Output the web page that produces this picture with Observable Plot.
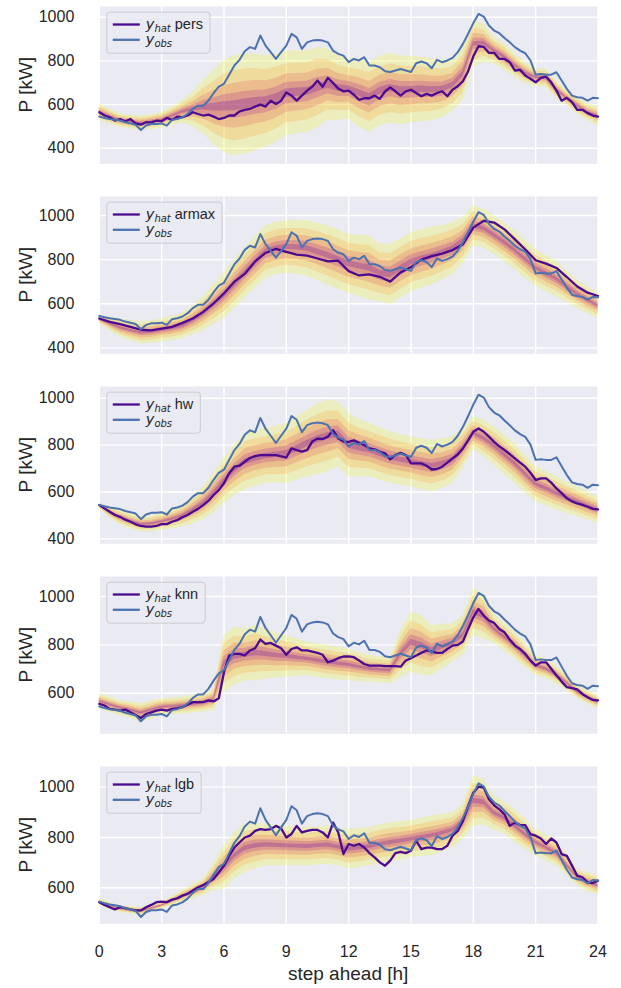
<!DOCTYPE html>
<html>
<head>
<meta charset="utf-8">
<script src="https://cdn.jsdelivr.net/npm/d3@7"></script>
<script src="https://cdn.jsdelivr.net/npm/@observablehq/plot@0.6"></script>
<style>
  body { margin: 0; background: #ffffff; }
  #chart { position: relative; width: 621px; height: 988px; overflow: hidden; }
  #chart svg { display: block; }
</style>
</head>
<body>
<div id="chart"></div>
<script>
// ---------------- data ----------------
const xTicks = [0, 3, 6, 9, 12, 15, 18, 21, 24];
const yTicks = [400, 600, 800, 1000];
const quarterSteps = d3.range(0, 24.001, 0.25); // 97 steps, 15 min
const halfSteps = d3.range(0, 24.001, 0.5);     // 49 steps, 30 min

// observed load (same in every panel), 15-min steps
const yObs = [
  545,539,534,531, 527,519,514,508, 484,504,511,511, 514,504,530,534,
  542,557,580,595, 595,618,652,682, 695,737,779,805, 844,863,855,916,
  870,840,809,840, 870,924,908,855, 885,893,896,893, 885,847,832,824,
  794,809,802,817, 779,779,771,753, 749,756,763,756, 749,789,797,789,
  766,805,794,802, 814,840,878,924, 973,1015,1003,962, 939,927,905,885,
  863,847,835,802, 737,740,737,737, 748,710,672,641, 634,631,618,631, 629
];

// forecasts
const yhatPers = [
  565,550,542,527, 534,524,534,514, 508,519,519,527, 524,539,530,545,
  542,550,565,557, 550,554,545,534, 539,550,550,569, 576,580,591,600,
  591,618,603,618, 656,641,618,641, 664,682,710,682, 722,699,673,661,
  664,645,622,629, 629,641,626,660, 679,661,641,661, 668,653,638,649,
  641,653,661,638, 668,684,707,753, 821,867,864,837, 837,809,809,794,
  756,759,733,718, 702,722,728,702, 664,618,631,611, 576,576,561,550, 545
];
const yhatArmax = [ // 30-min steps
  533,518, 507,495, 482,479, 487,495, 513,533, 563,602, 647,700, 735,792,
  830,849, 835,823, 818,805, 792,795, 748,728, 733,722, 700,742, 766,800,
  816,827, 843,869, 945,976, 968,937, 892,846, 797,782, 762,721, 678,650, 635
];
const yhatHw = [
  544,530,516,502, 494,482,473,462, 455,452,452,455, 463,463,473,480,
  492,502,516,528, 544,562,587,608, 637,680,708,712, 729,745,753,757,
  757,757,757,752, 747,786,779,772, 779,815,828,826, 836,864,828,815,
  814,820,810,800, 786,782,772,765, 739,758,767,758, 722,722,722,712,
  696,698,708,725, 743,760,786,820, 857,871,857,836, 814,795,779,762,
  743,725,708,682, 651,658,658,640, 615,595,573,560, 551,545,537,528, 526
];
const yhatKnn = [
  556,549,535,532, 528,532,521,510, 497,514,521,528, 532,528,535,538,
  542,552,563,563, 563,570,566,579, 687,756,763,763, 756,777,786,822,
  804,808,797,786, 759,783,790,777, 777,772,767,759, 728,735,745,752,
  752,749,735,721, 714,714,714,712, 712,712,710,735, 745,756,767,777,
  772,767,767,783, 797,800,814,866, 914,949,921,901, 891,866,852,822,
  797,783,763,735, 714,728,728,701, 673,648,625,621, 616,597,583,572, 570
];
const yhatLgb = [
  543,532,523,514, 523,519,514,510, 510,523,532,543, 545,543,553,558,
  569,576,589,602, 611,622,635,661, 688,727,760,780, 800,807,826,833,
  830,833,846,836, 800,814,846,820, 826,830,830,820, 800,859,820,734,
  774,767,774,760, 738,721,701,688, 708,738,743,738, 747,787,754,760,
  760,754,754,767, 807,826,866,925, 978,1002,998,952, 928,912,892,846,
  859,849,849,813, 807,796,774,796, 780,734,727,688, 648,642,622,619, 628
];

// outer prediction interval (lower / upper), 30-min steps
const persLo = [527,510,496,488,481,486,493,505,516,501,466,420,382,366,374,389,405,427,458,466,473,493,527,527,534,496,473,504,516,508,516,523,527,539,569,618,771,794,786,756,725,695,683,680,626,595,557,527,501];
const persHi = [603,580,557,552,547,555,565,590,618,656,710,756,802,824,832,832,824,832,847,847,847,863,855,824,809,809,794,820,835,824,820,817,809,802,809,863,985,969,908,878,832,794,764,764,710,664,634,603,591];
const armaxLo = [510,478,449,432,418,420,426,432,441,458,479,505,533,577,624,670,716,730,739,733,724,705,685,665,647,632,617,609,594,625,655,670,685,708,731,780,861,853,823,790,754,715,678,655,632,605,579,555,533];
const armaxHi = [548,540,533,525,518,523,533,543,556,590,632,685,739,797,853,905,953,970,976,978,976,965,953,935,914,910,907,869,869,895,922,935,945,955,968,990,1044,1029,998,965,930,888,846,818,792,750,708,678,647];
const hwLo = [530,490,459,442,430,430,437,443,452,465,480,510,551,585,608,625,637,638,637,650,665,675,686,708,665,665,665,650,637,630,622,610,601,615,637,700,779,750,715,675,637,595,558,540,523,508,494,480,466];
const hwHi = [551,537,523,508,494,498,509,525,544,580,622,680,743,800,850,862,871,880,892,920,949,975,992,985,935,910,892,875,857,845,836,828,821,826,836,870,921,907,878,843,807,757,708,690,665,643,622,600,580];
const knnLo = [535,520,508,495,480,492,508,510,514,518,521,528,604,632,652,652,659,662,666,670,673,666,659,655,652,648,646,642,639,665,687,673,673,700,728,756,839,825,804,775,742,706,673,660,639,610,577,555,535];
const knnHi = [597,585,570,565,556,568,577,580,583,590,597,618,839,873,866,880,866,850,839,825,811,805,797,790,783,770,756,752,749,860,935,921,880,885,887,921,1032,1011,928,890,852,805,756,740,714,675,632,610,590];
const lgbLo = [529,515,503,496,490,503,516,530,543,556,569,589,596,635,661,675,688,688,688,688,688,692,694,688,675,680,688,695,701,710,721,725,727,742,760,793,845,850,830,815,780,752,727,708,688,650,609,585,569];
const lgbHi = [556,542,529,526,523,532,543,565,589,612,635,694,767,820,853,859,853,850,846,843,840,843,846,835,833,836,840,850,859,862,866,876,886,892,899,930,1044,1031,965,939,912,872,833,810,787,730,675,660,648];

// nested quantile bands as share of the outer interval half-width
const quantileWidthRatios = [1, 0.7, 0.45, 0.25, 0.1];
const bandColors = ["#f0f921", "#fca636", "#e16462", "#b12a90", "#6a00a8"];

const modelNames = ["pers", "armax", "hw", "knn", "lgb"];
const yDomains = [[329, 1049], [373, 1086], [379, 1050], [432, 1083], [457, 1082]];

const panels = [
  {model: modelNames[0], yhat: yhatPers,  steps: quarterSteps, lo: persLo,  hi: persHi,  domain: yDomains[0]},
  {model: modelNames[1], yhat: yhatArmax, steps: halfSteps,    lo: armaxLo, hi: armaxHi, domain: yDomains[1]},
  {model: modelNames[2], yhat: yhatHw,    steps: quarterSteps, lo: hwLo,    hi: hwHi,    domain: yDomains[2]},
  {model: modelNames[3], yhat: yhatKnn,   steps: quarterSteps, lo: knnLo,   hi: knnHi,   domain: yDomains[3]},
  {model: modelNames[4], yhat: yhatLgb,   steps: quarterSteps, lo: lgbLo,   hi: lgbHi,   domain: yDomains[4]}
];

// ---------------- layout ----------------
const W = 621, LEFT = 98.8, RIGHT = 23.5, TOP = 6, INNER = 157.3, PITCH = 190, TOTAL = 988;
const yhatColor = "#4b0a8f", obsColor = "#4c72b0";
const FONT = "'Liberation Sans', Arial, Helvetica, sans-serif";
const container = document.getElementById("chart");

panels.forEach((p, idx) => {
  const last = idx === panels.length - 1;
  const height = last ? TOTAL - PITCH * idx : PITCH;
  const bottom = height - TOP - INNER;
  const ticks = yTicks.filter(t => t >= p.domain[0] && t <= p.domain[1]);
  const bands = quantileWidthRatios.map(r => halfSteps.map((s, k) => {
    const mid = (p.lo[k] + p.hi[k]) / 2, half = (p.hi[k] - p.lo[k]) / 2;
    return {s, y1: mid - r * half, y2: mid + r * half};
  }));
  const marks = [
    Plot.frame({fill: "#eaeaf2", stroke: "none"}),
    Plot.gridX(xTicks, {stroke: "#ffffff", strokeOpacity: 1, strokeWidth: 1.4}),
    Plot.gridY(ticks, {stroke: "#ffffff", strokeOpacity: 1, strokeWidth: 1.4}),
    ...bands.map((b, j) => Plot.areaY(b, {x: "s", y1: "y1", y2: "y2", fill: bandColors[j], fillOpacity: 0.25})),
    Plot.lineY(p.yhat, {x: (d, i) => p.steps[i], y: d => d, stroke: yhatColor, strokeWidth: 2.3}),
    Plot.lineY(yObs, {x: (d, i) => quarterSteps[i], y: d => d, stroke: obsColor, strokeWidth: 2}),
    Plot.axisY(ticks, {tickSize: 0, tickPadding: 25, label: null, fontSize: 16, tickFormat: d => String(d)})
  ];
  if (last) marks.push(Plot.axisX(xTicks, {tickSize: 0, tickPadding: 22, label: null, fontSize: 16, tickFormat: d => String(d)}));
  const svg = Plot.plot({
    width: W, height,
    marginLeft: LEFT, marginRight: RIGHT, marginTop: TOP, marginBottom: bottom,
    x: {domain: [0, 24], axis: last ? undefined : null},
    y: {domain: p.domain},
    style: {fontFamily: FONT, fontSize: "16px", color: "#262626", background: "transparent", overflow: "visible"},
    marks
  });
  container.appendChild(svg);

  const s = d3.select(svg);
  // y label
  s.append("text")
    .attr("transform", `translate(25, ${TOP + INNER / 2}) rotate(-90)`)
    .attr("text-anchor", "middle").attr("dy", "0.35em")
    .attr("fill", "#262626").style("font-family", FONT).style("font-size", "19px")
    .text("P [kW]");
  // x label
  if (last) {
    s.append("text")
      .attr("x", (LEFT + (W - RIGHT)) / 2).attr("y", 973 - PITCH * idx)
      .attr("text-anchor", "middle").attr("dy", "0.35em")
      .attr("fill", "#262626").style("font-family", FONT).style("font-size", "19px")
      .text("step ahead [h]");
  }
  // legend
  const bx = LEFT + 8, by = TOP + 6.2;
  const g = s.append("g").attr("text-anchor", "start");
  const box = g.append("rect").attr("x", bx).attr("y", by).attr("height", 41).attr("rx", 3)
    .attr("fill", "#eaeaf2").attr("fill-opacity", 0.8).attr("stroke", "#cccccc").attr("stroke-width", 1);
  const entries = [
    {color: yhatColor, sub: "hat", rest: p.model, dy: 12.3},
    {color: obsColor, sub: "obs", rest: "", dy: 27.6}
  ];
  let maxW = 0;
  entries.forEach(e => {
    g.append("line").attr("x1", bx + 6).attr("x2", bx + 33).attr("y1", by + e.dy).attr("y2", by + e.dy)
      .attr("stroke", e.color).attr("stroke-width", 2.3);
    const t = g.append("text").attr("x", bx + 39).attr("y", by + e.dy + 4.5).attr("text-anchor", "start")
      .attr("fill", "#262626").style("font-family", FONT).style("font-size", "14.5px");
    t.append("tspan").style("font-family", "'DejaVu Sans', sans-serif").style("font-style", "italic").text("y");
    t.append("tspan").style("font-family", "'DejaVu Sans', sans-serif").style("font-style", "italic")
      .style("font-size", "10px").attr("dy", 2.5).text(e.sub);
    if (e.rest) t.append("tspan").attr("dy", -2.5).attr("dx", 4).text(e.rest);
    maxW = Math.max(maxW, t.node().getComputedTextLength() + (e.rest ? 4 : 0));
  });
  box.attr("width", 39 + maxW + 7);
});
</script>
</body>
</html>
